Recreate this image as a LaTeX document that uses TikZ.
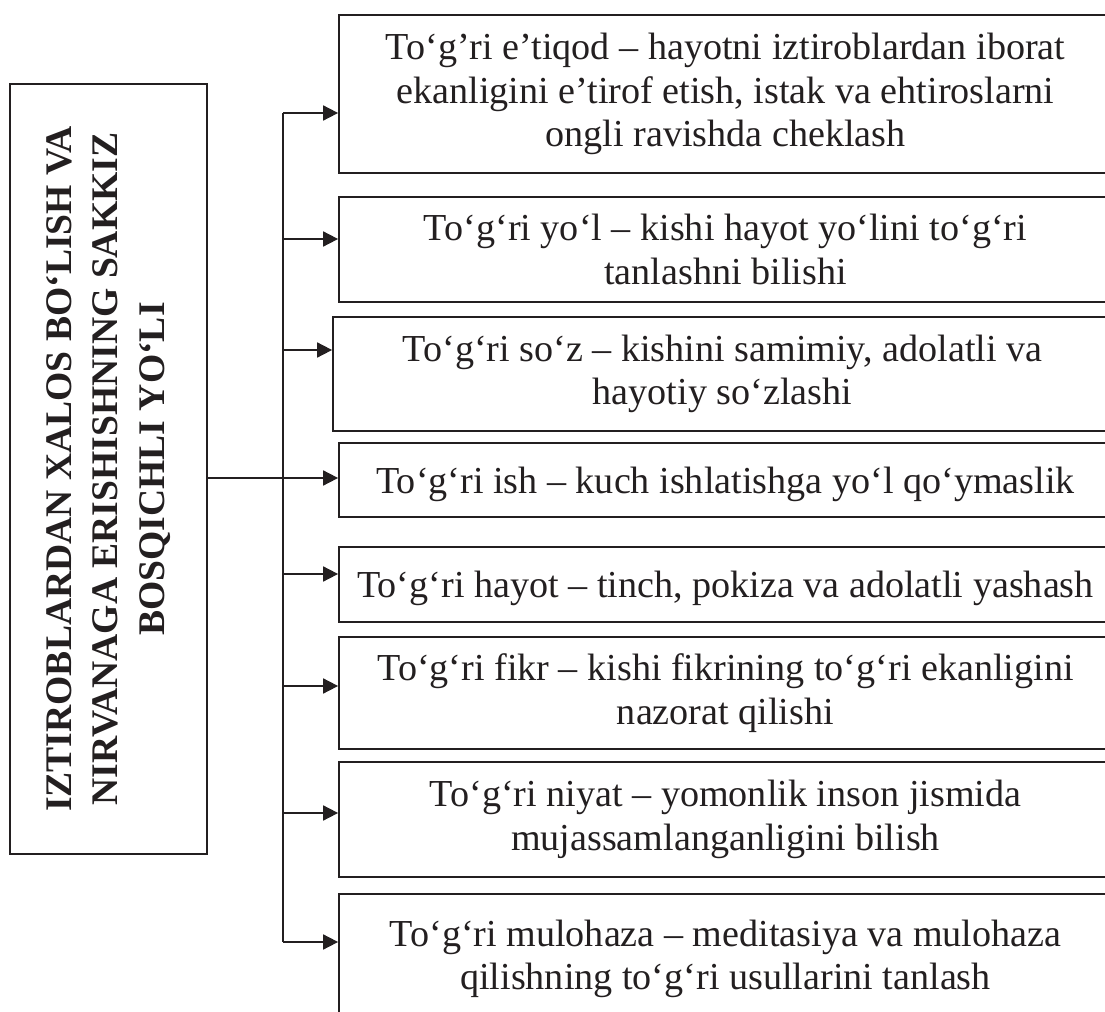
\documentclass[tikz,border=0pt]{standalone}
\usepackage{fontspec}
\setmainfont{Liberation Serif}
\usetikzlibrary{arrows.meta}
\definecolor{ink}{HTML}{231F20}
\tikzset{
  stagebox/.style={draw=ink, text=ink, line width=1pt, align=center, inner sep=0pt,
    minimum width=15.46cm, font=\fontsize{21.7}{24.7}\selectfont,
    execute at begin node=\rule{0pt}{0.7cm}},
  arr/.style={draw=ink, line width=1pt, -{Triangle[length=0.3cm,width=0.3cm]}},
  trunk/.style={draw=ink, line width=1pt}
}
\begin{document}
\begin{tikzpicture}
  \useasboundingbox (0,0) rectangle (22.1,-20.24);
  \clip (0,0) rectangle (22.1,-20.24);
  % main title, text turned upwards
  \node[draw=ink, text=ink, line width=1pt, inner sep=0pt, minimum width=3.94cm, minimum height=15.4cm] (title) at (2.17,-9.38)
    {\rotatebox{90}{\fontsize{21.4}{26.4}\selectfont\bfseries
     \begin{tabular}{@{}c@{}}IZTIROBLARDAN XALOS BO‘LISH VA\\ NIRVANAGA ERISHISHNING SAKKIZ\\ BOSQICHLI YO‘LI\end{tabular}}};
  % the eight stages
  \node[stagebox, minimum height=3.16cm] (b1) at (14.51,-1.88) {To‘g’ri e’tiqod – hayotni iztiroblardan iborat\\ ekanligini e’tirof etish, istak va ehtiroslarni\\ ongli ravishda cheklash};
  \node[stagebox, minimum height=2.1cm]  (b2) at (14.51,-4.99) {To‘g‘ri yo‘l – kishi hayot yo‘lini to‘g‘ri\\ tanlashni bilishi};
  \node[stagebox, minimum height=2.28cm, minimum width=15.58cm] (b3) at (14.45,-7.48) {To‘g‘ri so‘z – kishini samimiy, adolatli va\\ hayotiy so‘zlashi};
  \node[stagebox, minimum height=1.48cm] (b4) at (14.51,-9.6) {To‘g‘ri ish – kuch ishlatishga yo‘l qo‘ymaslik};
  \node[stagebox, minimum height=1.5cm]  (b5) at (14.51,-11.69) {To‘g‘ri hayot – tinch, pokiza va adolatli yashash};
  \node[stagebox, minimum height=2.24cm] (b6) at (14.51,-13.86) {To‘g‘ri fikr – kishi fikrining to‘g‘ri ekanligini\\ nazorat qilishi};
  \node[stagebox, minimum height=2.3cm]  (b7) at (14.51,-16.39) {To‘g‘ri niyat – yomonlik inson jismida\\ mujassamlanganligini bilish};
  \node[stagebox, minimum height=2.6cm]  (b8) at (14.51,-19.18) {To‘g‘ri mulohaza – meditasiya va mulohaza\\ qilishning to‘g‘ri usullarini tanlash};
  % branch points on the trunk
  \coordinate (t1) at (5.66,-2.26);
  \coordinate (t2) at (5.66,-4.78);
  \coordinate (t3) at (5.66,-7.0);
  \coordinate (t4) at (5.66,-9.56);
  \coordinate (t5) at (5.66,-11.48);
  \coordinate (t6) at (5.66,-13.72);
  \coordinate (t7) at (5.66,-16.26);
  \coordinate (t8) at (5.66,-18.84);
  \draw[trunk] (t1) -- (t8);
  \draw[arr] (title.east |- t4) -- (t4 -| b4.west);
  \draw[arr] (t1) -- (t1 -| b1.west);
  \draw[arr] (t2) -- (t2 -| b2.west);
  \draw[arr] (t3) -- (t3 -| b3.west);
  \draw[arr] (t5) -- (t5 -| b5.west);
  \draw[arr] (t6) -- (t6 -| b6.west);
  \draw[arr] (t7) -- (t7 -| b7.west);
  \draw[arr] (t8) -- (t8 -| b8.west);
\end{tikzpicture}
\end{document}
